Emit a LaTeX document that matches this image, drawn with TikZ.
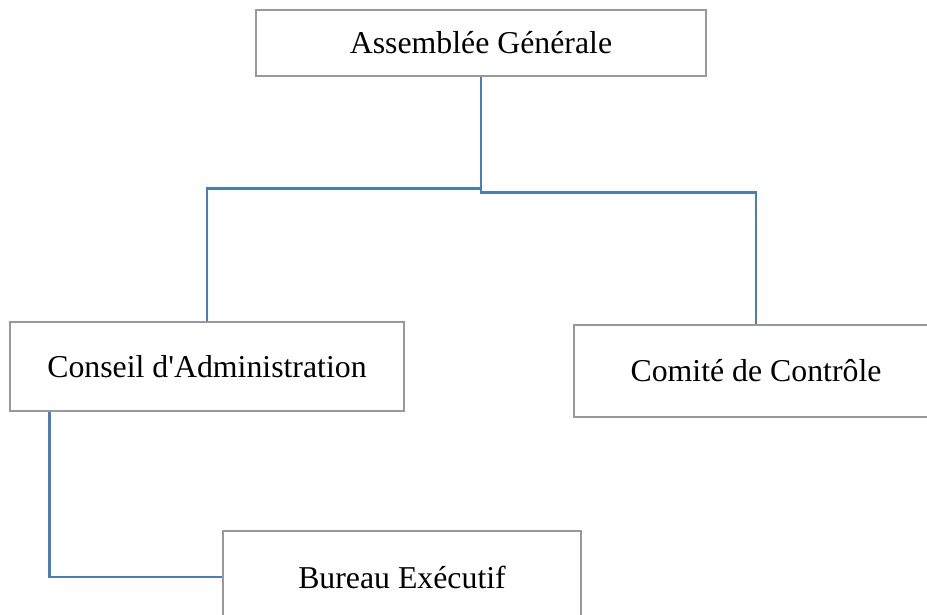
\documentclass[tikz,border=0pt]{standalone}
\usepackage{fontspec}
\setmainfont{Liberation Serif}
\usepackage{tikz}
\definecolor{linkblue}{RGB}{74,126,187}
\tikzset{
  orgbox/.style={draw=gray!80, line width=1.2pt, rectangle, align=center,
    font=\fontsize{31.8}{36}\selectfont},
  link/.style={draw=linkblue, line width=2.5pt}
}

\begin{document}
\begin{tikzpicture}[x=1pt, y=-1pt]
    \clip (0,0) rectangle (927,614);
    \node[orgbox, minimum width=450pt, minimum height=66pt] (ag) at (481,43) {Assembl\'ee G\'en\'erale};
    \node[orgbox, minimum width=394pt, minimum height=89pt] (ca) at (207,366.5) {Conseil d\textquotesingle Administration};
    \node[orgbox, minimum width=364pt, minimum height=92pt] (cc) at (756,371) {Comit\'e de Contr\^ole};
    \node[orgbox, minimum width=358pt, minimum height=92pt] (be) at (402,577) {Bureau Ex\'ecutif};
    \draw[link] (ag.south) -- ++(0,112) -| (ca.north);
    \draw[link] (ag.south) -- ++(0,116) -| (cc.north);
    \draw[link] (ca.south west) ++(40,0) |- (be.west);
  \end{tikzpicture}
\end{document}
